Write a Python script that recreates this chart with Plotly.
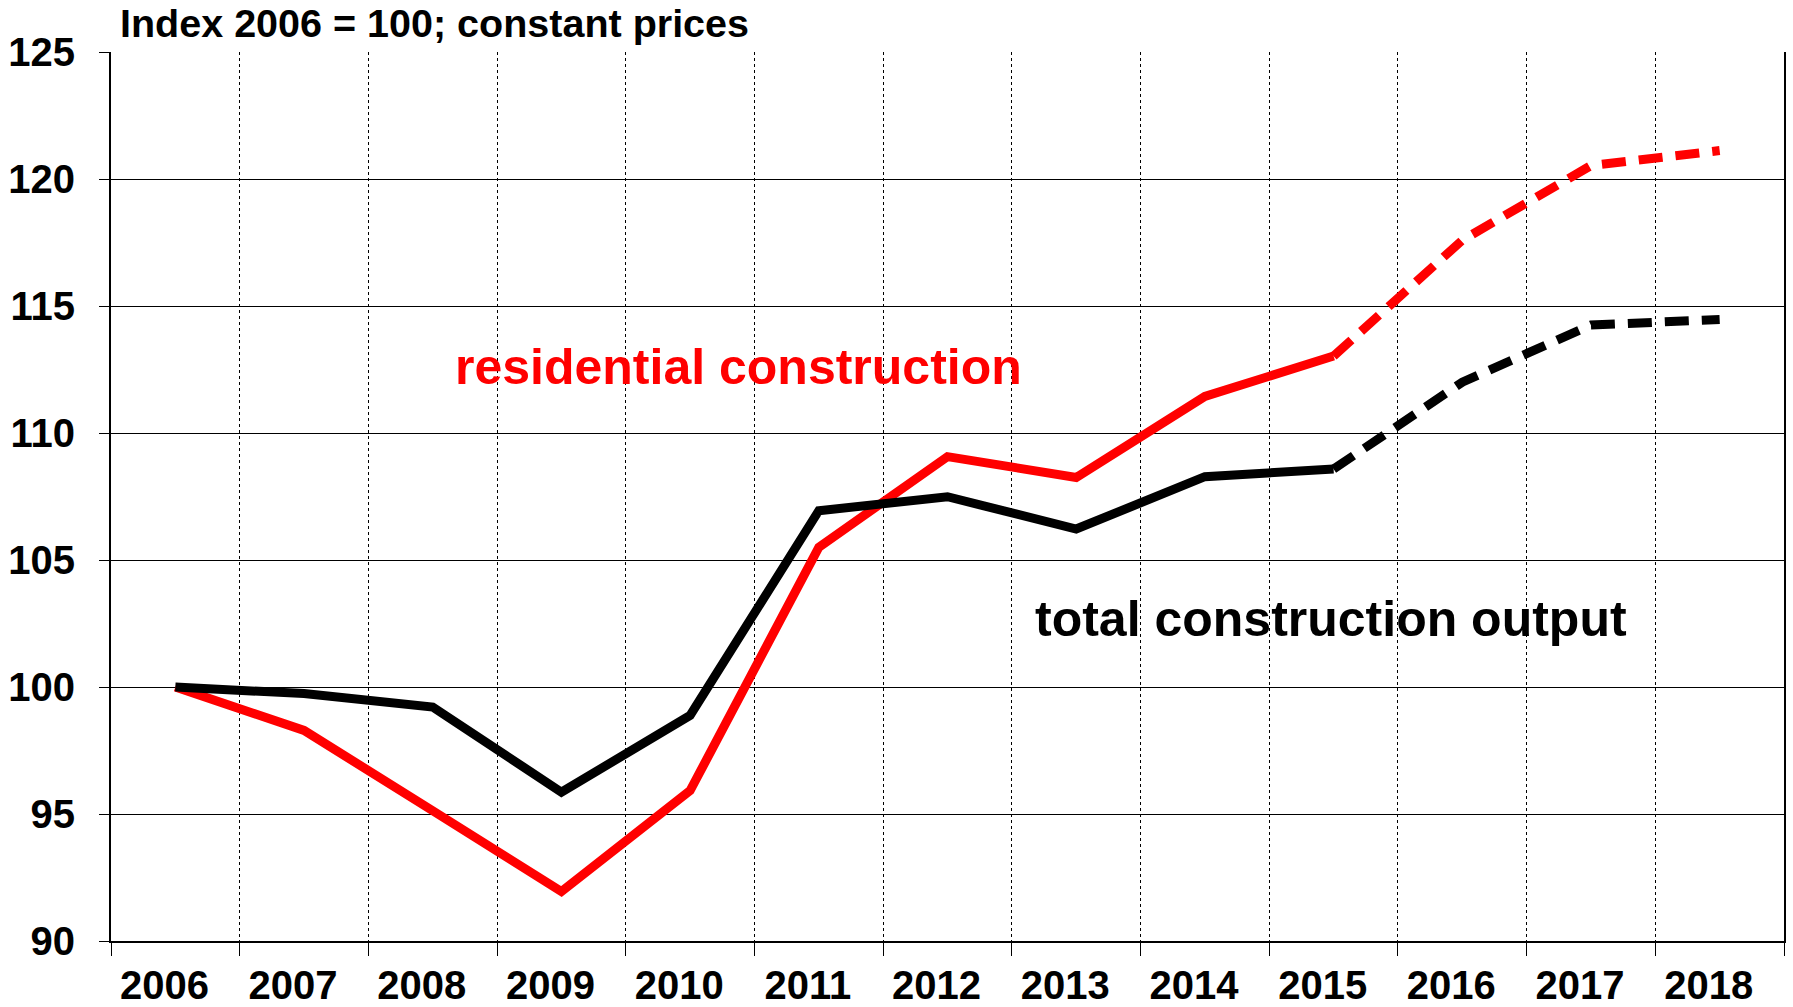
import plotly.graph_objects as go

years = ["2006", "2007", "2008", "2009", "2010", "2011", "2012",
         "2013", "2014", "2015", "2016", "2017", "2018"]
residential = [100.0, 98.29, 95.13, 91.95, 95.92, 105.5, 109.07,
               108.25, 111.44, 113.03, 117.59, 120.53, 121.12]
total = [100.0, 99.74, 99.21, 95.86, 98.88, 106.94, 107.49,
         106.22, 108.28, 108.58, 112.0, 114.25, 114.47]
forecast_from = 9  # 2015 onward dashed
y_ticks = [90, 95, 100, 105, 110, 115, 120, 125]

FONT = "Liberation Sans, Arial, sans-serif"
RED = "#ff0000"
BLACK = "#000000"

xs = list(range(len(years)))

fig = go.Figure()
for vals, col in ((residential, RED), (total, BLACK)):
    fig.add_trace(go.Scatter(
        x=xs[:forecast_from + 1], y=vals[:forecast_from + 1], mode="lines",
        line=dict(color=col, width=9), showlegend=False, hoverinfo="skip"))
    fig.add_trace(go.Scatter(
        x=xs[forecast_from:], y=vals[forecast_from:], mode="lines",
        line=dict(color=col, width=9, dash="24px,13px"), showlegend=False,
        hoverinfo="skip"))

fig.add_annotation(text="residential construction", x=0.375, y=0.646,
                   xref="paper", yref="paper", xanchor="center", yanchor="middle",
                   showarrow=False,
                   font=dict(family=FONT, size=50, color=RED, weight="bold"))
fig.add_annotation(text="total construction output", x=0.729, y=0.362,
                   xref="paper", yref="paper", xanchor="center", yanchor="middle",
                   showarrow=False,
                   font=dict(family=FONT, size=50, color=BLACK, weight="bold"))

fig.update_layout(
    width=1793, height=1007,
    margin=dict(l=111, r=9, t=52, b=66),
    paper_bgcolor="white", plot_bgcolor="white",
    title=dict(text="Index 2006 = 100; constant prices",
               x=120 / 1793, xref="container", xanchor="left",
               y=1 - 23 / 1007, yref="container", yanchor="middle",
               font=dict(family=FONT, size=39.5, color=BLACK, weight="bold")),
    xaxis=dict(
        range=[-0.5, len(years) - 0.5],
        tickmode="array",
        tickvals=[i - 0.085 for i in xs],
        ticktext=years,
        ticks="", showgrid=False, zeroline=False, automargin=False,
        showline=True, linecolor=BLACK, linewidth=2,
        ticklabelstandoff=8,
        tickfont=dict(family=FONT, size=40, color=BLACK, weight="bold"),
        minor=dict(tickmode="linear", tick0=-0.5, dtick=1,
                   ticks="outside", ticklen=13, tickcolor=BLACK, tickwidth=1,
                   showgrid=True, gridcolor=BLACK, gridwidth=1, griddash="dot"),
    ),
    yaxis=dict(
        range=[90, 125],
        tickmode="array", tickvals=y_ticks,
        ticks="outside", ticklen=10, tickcolor=BLACK, tickwidth=1,
        showgrid=True, gridcolor=BLACK, gridwidth=1,
        zeroline=False, automargin=False,
        showline=True, linecolor=BLACK, linewidth=2, mirror=True,
        ticklabelstandoff=16,
        tickfont=dict(family=FONT, size=40, color=BLACK, weight="bold"),
    ),
)

fig.write_html(
    "out.html",
    config={"displayModeBar": False},
    post_script="document.body.style.margin='0';document.body.style.overflow='hidden';",
)
